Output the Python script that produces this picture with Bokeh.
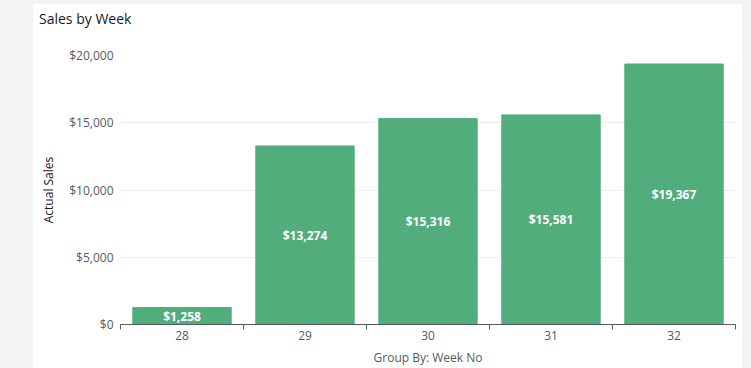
from bokeh.plotting import figure
from bokeh.models import (ColumnDataSource, FixedTicker, NumeralTickFormatter, Range1d, Div)
from bokeh.layouts import row, column
from bokeh.core.properties import value
from bokeh.embed import file_html
from bokeh.resources import INLINE

title_text = "Sales by Week"
weeks = ["28", "29", "30", "31", "32"]
sales = [1258, 13274, 15316, 15581, 19367]
y_ticks = [0, 5000, 10000, 15000, 20000]

FONT = "Open Sans"
BAR = "#52ad7c"

xs = [i + 0.5 for i in range(len(weeks))]
src = ColumnDataSource(dict(
    x=xs,
    top=sales,
    mid=[s / 2 for s in sales],
    label=["${:,}".format(s) for s in sales],
))

title_div = Div(
    text='<div style="padding:5px 0 0 6px; font-family:\'Open Sans\'; font-size:14px; '
         'line-height:19px; color:#16191f; white-space:nowrap;">' + title_text + '</div>',
    width=709, height=30, margin=(0, 0, 0, 0),
    styles={"background-color": "white"})

p = figure(width=709, height=334, output_backend="svg", toolbar_location=None,
           x_range=Range1d(0, len(weeks)), y_range=Range1d(0, 20000),
           min_border_left=87, min_border_right=7, min_border_bottom=43, min_border_top=21,
           margin=(0, 0, 0, 0))
p.border_fill_color = "white"
p.background_fill_color = "white"
p.outline_line_color = None

p.vbar(x="x", top="top", width=0.8, bottom=0, source=src, fill_color=BAR, line_color=BAR)
p.text(x="x", y="mid", text="label", source=src, text_color="white",
       text_font=value(FONT), text_font_size="12px", text_font_style="bold",
       text_align="center", text_baseline="middle")

# x axis
p.xaxis.ticker = FixedTicker(ticks=xs, minor_ticks=list(range(len(weeks) + 1)))
p.xaxis.major_label_overrides = {x: w for x, w in zip(xs, weeks)}
p.xaxis.major_tick_out = 0
p.xaxis.major_tick_in = 0
p.xaxis.minor_tick_out = 5
p.xaxis.minor_tick_in = 0
p.xaxis.minor_tick_line_color = "#545b64"
p.xaxis.axis_line_color = "#545b64"
p.xaxis.major_label_text_font = FONT
p.xaxis.major_label_text_font_size = "12px"
p.xaxis.major_label_text_color = "#545b64"
p.xaxis.major_label_standoff = 1
p.xaxis.axis_label = "Group By: Week No"
p.xaxis.axis_label_text_font = FONT
p.xaxis.axis_label_text_font_size = "12px"
p.xaxis.axis_label_text_font_style = "normal"
p.xaxis.axis_label_text_color = "#545b64"
p.xaxis.axis_label_standoff = 6
p.xgrid.grid_line_color = None

# y axis
p.yaxis.ticker = FixedTicker(ticks=y_ticks)
p.yaxis.formatter = NumeralTickFormatter(format="$0,0")
p.yaxis.axis_line_color = None
p.yaxis.major_tick_out = 0
p.yaxis.major_tick_in = 0
p.yaxis.major_tick_line_color = None
p.yaxis.minor_tick_line_color = None
p.yaxis.major_label_text_font = FONT
p.yaxis.major_label_text_font_size = "12px"
p.yaxis.major_label_text_color = "#545b64"
p.yaxis.major_label_standoff = 7
p.yaxis.axis_label = "Actual Sales"
p.yaxis.axis_label_text_font = FONT
p.yaxis.axis_label_text_font_size = "12px"
p.yaxis.axis_label_text_font_style = "normal"
p.yaxis.axis_label_text_color = "#16191f"
p.yaxis.axis_label_standoff = 9
p.ygrid.grid_line_color = "#e9ebed"
p.ygrid.ticker = FixedTicker(ticks=y_ticks)

panel = column(title_div, p, spacing=0, margin=(4, 9, 0, 33),
               styles={"background-color": "white"})
layout = row(panel, styles={"background-color": "#f2f3f3"}, width=751, height=368)

open("out.html", "w").write(file_html(layout, INLINE))
